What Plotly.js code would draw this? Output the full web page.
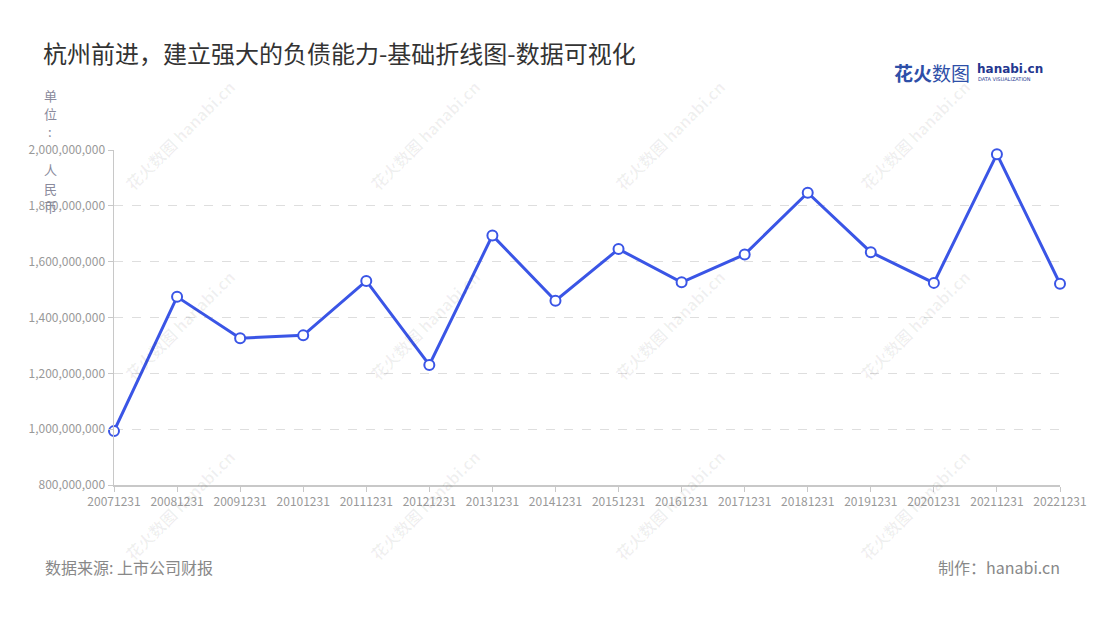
<!DOCTYPE html>
<html><head><meta charset="utf-8">
<script src="https://cdn.plot.ly/plotly-3.0.1.min.js"></script>
<style>html,body{margin:0;padding:0;background:#fff}#chart{width:1100px;height:620px}</style>
</head><body><div id="chart"></div>
<script>
const categories = ["20071231","20081231","20091231","20101231","20111231","20121231","20131231","20141231","20151231","20161231","20171231","20181231","20191231","20201231","20211231","20221231"];
const debtValues = [993000000,1474000000,1326000000,1336000000,1531000000,1230000000,1694000000,1460000000,1645000000,1526000000,1626000000,1847000000,1634000000,1524000000,1985000000,1521000000];
const yTickValues = [800000000,1000000000,1200000000,1400000000,1600000000,1800000000,2000000000];

const W = 1100, H = 620, L = 114, R = 40, T = 150, B = 135;
const pw = W - L - R, ph = H - T - B;
const px = x => (x - L) / pw;
const py = y => (H - B - y) / ph;
const FONT = '"Noto Sans CJK SC", "Noto Sans", sans-serif';

const annotations = [];
// vertical unit title
const unitChars = [["单",95],["位",113],[":",132],["人",170],["民",188],["币",206]];
unitChars.forEach(([c,y]) => annotations.push({xref:'paper',yref:'paper',x:px(50),y:py(y),text:c,showarrow:false,xanchor:'center',yanchor:'middle',font:{family:FONT,size:13,color:'#8a8a9c'}}));
// footer
annotations.push({xref:'paper',yref:'paper',x:px(43),y:py(567),text:'数据来源: 上市公司财报',showarrow:false,xanchor:'left',yanchor:'middle',font:{family:FONT,size:16,color:'#888'}});
annotations.push({xref:'paper',yref:'paper',x:px(1062),y:py(567),text:'制作：hanabi.cn',showarrow:false,xanchor:'right',yanchor:'middle',font:{family:FONT,size:16,color:'#888'}});
// logo
annotations.push({xref:'paper',yref:'paper',x:px(892),y:py(72),text:'<b>花火</b>数图',showarrow:false,xanchor:'left',yanchor:'middle',font:{family:FONT,size:19,color:'#2e4fa8'}});
annotations.push({xref:'paper',yref:'paper',x:px(975),y:py(69),text:'<b>hanabi.cn</b>',showarrow:false,xanchor:'left',yanchor:'middle',font:{family:'"DejaVu Sans", sans-serif',size:12,color:'#24378f'}});
annotations.push({xref:'paper',yref:'paper',x:px(976),y:py(79),text:'DATA VISUALIZATION',showarrow:false,xanchor:'left',yanchor:'middle',font:{family:'"DejaVu Sans", sans-serif',size:5,color:'#24378f'}});
// watermarks
const wmX = [180, 425, 670, 915], wmY = [135, 325, 505];
wmY.forEach(y => wmX.forEach(x => {
  annotations.push({xref:'paper',yref:'paper',x:px(x),y:py(y),text:'<b>花火数图</b> <b>hanabi.cn</b>',textangle:-45,showarrow:false,xanchor:'center',yanchor:'middle',font:{family:FONT,size:16,color:'rgba(0,0,0,0.06)'}});
}));

const trace = {
  x: categories, y: debtValues, type:'scatter', mode:'lines+markers', cliponaxis:false,
  line:{color:'#3a55e6',width:3},
  marker:{size:10,color:'#ffffff',line:{color:'#3a55e6',width:2}},
  hoverinfo:'x+y'
};

const layout = {
  width:W, height:H, margin:{l:L,r:R,t:T,b:B},
  paper_bgcolor:'#fff', plot_bgcolor:'#fff',
  showlegend:false,
  title:{text:'杭州前进，建立强大的负债能力-基础折线图-数据可视化',x:43/W,xanchor:'left',xref:'container',y:1-55/H,yanchor:'middle',yref:'container',font:{family:FONT,size:24,color:'#333'}},
  xaxis:{type:'category',range:[0,categories.length-1],showgrid:false,showline:true,linecolor:'#c8c8c8',linewidth:1.5,ticks:'outside',ticklen:5,tickcolor:'#c8c8c8',tickfont:{family:FONT,size:12,color:'#999'},zeroline:false,fixedrange:true,tickangle:0},
  yaxis:{range:[800000000,2000000000],tickvals:yTickValues,tickformat:',d',showgrid:true,gridcolor:'#dedede',griddash:'dash',gridwidth:1,showline:true,linecolor:'#c8c8c8',linewidth:1.5,ticks:'outside',ticklen:5,tickcolor:'#c8c8c8',tickfont:{family:FONT,size:12,color:'#999'},zeroline:false,fixedrange:true},
  annotations: annotations,
  font:{family:FONT}
};
Plotly.newPlot('chart',[trace],layout,{displayModeBar:false,staticPlot:true});
</script></body></html>
